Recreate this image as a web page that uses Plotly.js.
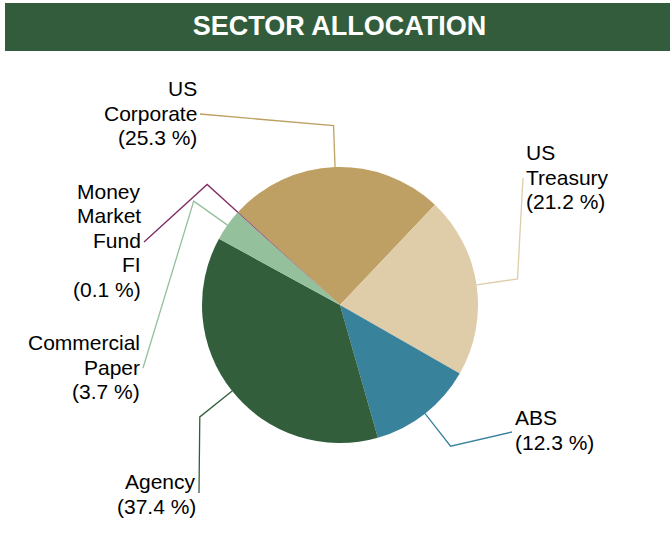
<!DOCTYPE html>
<html>
<head>
<meta charset="utf-8">
<script src="https://cdn.plot.ly/plotly-3.0.1.min.js"></script>
<style>html,body{margin:0;padding:0;background:#fff;}#chart{width:672px;height:555px;}</style>
</head>
<body>
<div id="chart"></div>
<script>
// ---- data ----
const sectors = ['US Corporate', 'US Treasury', 'ABS', 'Agency', 'Commercial Paper', 'Money Market Fund FI'];
const sectorLines = [['US', 'Corporate'], ['US', 'Treasury'], ['ABS'], ['Agency'], ['Commercial', 'Paper'], ['Money', 'Market', 'Fund', 'FI']];
const weights = [25.3, 21.2, 12.3, 37.4, 3.7, 0.1];
const colors = ['#BFA064', '#DFCCA9', '#38839B', '#335E3C', '#94C09C', '#7E2A63'];

// ---- layout (pixel space) ----
const W = 672, H = 555;
const cx = 340, cy = 305, R = 138;
const rotation = -47.6;
const lineGap = 24.5;
const textPad = 3;
// label anchors: [x, y, side]
const labelPos = [
  [196, 113, 'right'],
  [527, 177, 'left'],
  [516, 430, 'left'],
  [195, 494, 'right'],
  [139, 367, 'right'],
  [140, 240, 'right']
];
const lineEndDy = [1, 1, 2, -1, 1, 2];

const total = weights.reduce((a, b) => a + b, 0);
let acc = 0;
const shapes = [{
  type: 'rect', xref: 'x', yref: 'y', x0: 5, x1: 670, y0: 3, y1: 51,
  fillcolor: '#325C3B', line: {width: 0}, layer: 'below'
}];
const annotations = [];
weights.forEach((v, i) => {
  const mid = (rotation + (acc + v / 2) / total * 360) * Math.PI / 180;
  acc += v;
  const sx = cx + R * Math.sin(mid), sy = cy - R * Math.cos(mid);
  const ex = cx + 1.3 * R * Math.sin(mid), ey = cy - 1.3 * R * Math.cos(mid);
  const [lx, ly, side] = labelPos[i];
  const tx = side === 'right' ? lx + 4 : lx - 4;
  const ty = ly + lineEndDy[i];
  shapes.push({
    type: 'path', xref: 'x', yref: 'y', layer: 'above',
    path: `M ${sx} ${sy} L ${ex} ${ey} L ${tx} ${ty}`,
    line: {color: colors[i], width: 1.3}
  });
  const lines = sectorLines[i].concat(['(' + v.toFixed(1) + ' %)']);
  const n = lines.length;
  const ax = side === 'right' ? lx + textPad : lx - textPad;
  lines.forEach((t, k) => {
    annotations.push({
      xref: 'x', yref: 'y', x: ax, y: ly + (k - (n - 1) / 2) * lineGap,
      xanchor: side, yanchor: 'middle', align: side,
      showarrow: false, text: t,
      font: {family: 'Liberation Sans, Arial, sans-serif', size: 21, color: '#000'}
    });
  });
});

const trace = {
  type: 'pie',
  labels: sectors,
  values: weights,
  sort: false,
  direction: 'clockwise',
  rotation: rotation,
  marker: {colors: colors, line: {width: 0}},
  textinfo: 'none',
  hoverinfo: 'label+percent',
  showlegend: false,
  domain: {x: [(cx - R) / W, (cx + R) / W], y: [1 - (cy + R) / H, 1 - (cy - R) / H]}
};

const layout = {
  width: W, height: H,
  margin: {l: 0, r: 0, t: 0, b: 0},
  paper_bgcolor: '#fff', plot_bgcolor: 'rgba(0,0,0,0)',
  xaxis: {range: [0, W], visible: false, fixedrange: true},
  yaxis: {range: [H, 0], visible: false, fixedrange: true},
  title: {
    text: '<b>SECTOR ALLOCATION</b>',
    x: 339.5 / W, xanchor: 'center', xref: 'container',
    y: 1 - 26 / H, yanchor: 'middle', yref: 'container',
    font: {family: 'Liberation Sans, Arial, sans-serif', size: 27, color: '#fff'}
  },
  shapes: shapes,
  annotations: annotations
};

Plotly.newPlot('chart', [trace], layout, {staticPlot: true, displayModeBar: false});
</script>
</body>
</html>
